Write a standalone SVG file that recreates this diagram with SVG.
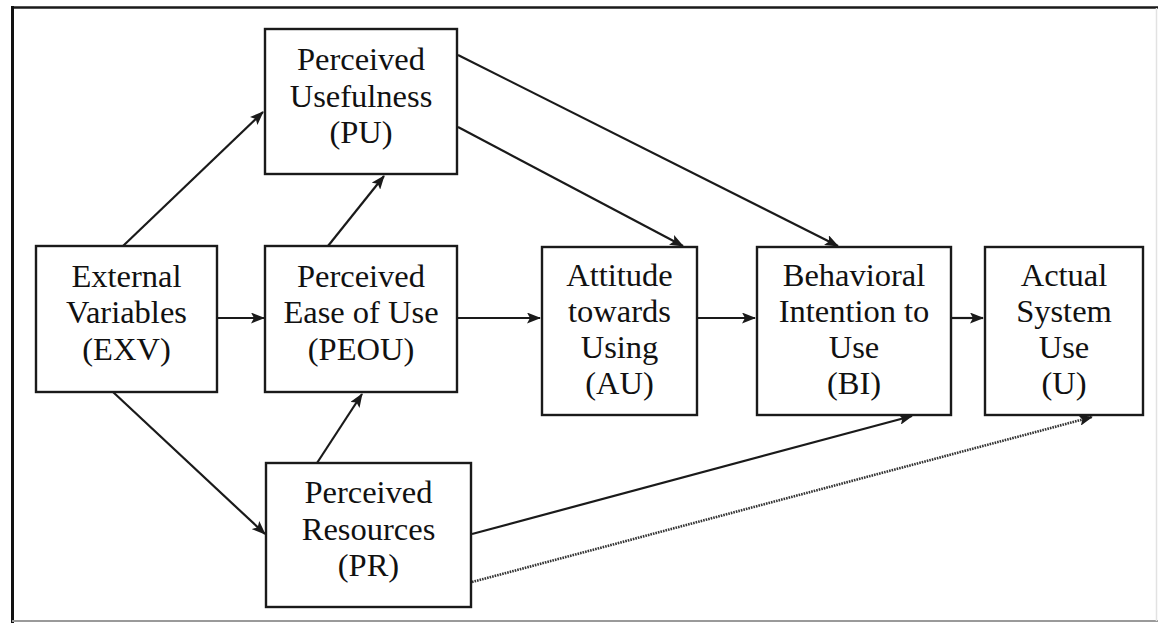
<svg xmlns="http://www.w3.org/2000/svg" width="1158" height="623" viewBox="0 0 1158 623">
  <style>
    .box { fill: #ffffff; stroke: #1a1a1a; stroke-width: 2.4; }
    .lbl { font-family: "Liberation Serif", "Times New Roman", serif; font-size: 32.5px; fill: #111111; text-anchor: middle; }
    .edge { stroke: #1a1a1a; stroke-width: 2.2; fill: none; marker-end: url(#arrow); }
    .dotted { stroke: #333333; stroke-width: 2.6; stroke-dasharray: 1.6 1; fill: none; marker-end: url(#arrow); }
  </style>
  <defs>
    <marker id="arrow" viewBox="0 0 14 11" refX="13" refY="5.5" markerWidth="14" markerHeight="11" markerUnits="userSpaceOnUse" orient="auto">
      <path d="M0,0 L14,5.5 L0,11 L3,5.5 Z" fill="#1a1a1a"/>
    </marker>
  </defs>

  <!-- page background and frame -->
  <rect x="0" y="0" width="1158" height="623" fill="#ffffff"/>
  <g id="frame">
    <line x1="12" y1="7.5" x2="1158" y2="7.5" stroke="#1a1a1a" stroke-width="2.6"/>
    <line x1="12.5" y1="6" x2="12.5" y2="623" stroke="#111111" stroke-width="3"/>
    <line x1="12" y1="621" x2="1158" y2="621" stroke="#9a9a9a" stroke-width="2"/>
    <line x1="1156.5" y1="8" x2="1156.5" y2="621" stroke="#e2e2e2" stroke-width="1.5"/>
  </g>

  <!-- connectors -->
  <g id="connectors">
    <line class="edge" x1="123" y1="246" x2="263" y2="112"/>
    <line class="edge" x1="328" y1="246" x2="384" y2="176"/>
    <line class="edge" x1="218" y1="318" x2="264" y2="318"/>
    <line class="edge" x1="113" y1="392" x2="265" y2="534"/>
    <line class="edge" x1="317" y1="463" x2="362" y2="394"/>
    <line class="edge" x1="458" y1="318" x2="540" y2="318"/>
    <line class="edge" x1="698" y1="318" x2="755" y2="318"/>
    <line class="edge" x1="952" y1="318" x2="983" y2="318"/>
    <line class="edge" x1="458" y1="127" x2="683" y2="246"/>
    <line class="edge" x1="458" y1="55" x2="838" y2="246"/>
    <line class="edge" x1="472" y1="534" x2="912" y2="416"/>
    <line class="dotted" x1="472" y1="582" x2="1092" y2="417"/>
  </g>

  <g id="node-exv">
    <rect class="box" x="36" y="246" width="181" height="146"/>
    <text class="lbl" x="126.5" y="287">External</text>
    <text class="lbl" x="126.5" y="323">Variables</text>
    <text class="lbl" x="126.5" y="360">(EXV)</text>
  </g>

  <g id="node-pu">
    <rect class="box" x="265" y="29" width="192" height="145"/>
    <text class="lbl" x="361" y="70">Perceived</text>
    <text class="lbl" x="361" y="107">Usefulness</text>
    <text class="lbl" x="361" y="143">(PU)</text>
  </g>

  <g id="node-peou">
    <rect class="box" x="265" y="246" width="192" height="146"/>
    <text class="lbl" x="361" y="287">Perceived</text>
    <text class="lbl" x="361" y="323">Ease of Use</text>
    <text class="lbl" x="361" y="360">(PEOU)</text>
  </g>

  <g id="node-pr">
    <rect class="box" x="266" y="463" width="205" height="144"/>
    <text class="lbl" x="368.5" y="503">Perceived</text>
    <text class="lbl" x="368.5" y="540">Resources</text>
    <text class="lbl" x="368.5" y="576">(PR)</text>
  </g>

  <g id="node-au">
    <rect class="box" x="542" y="247" width="155" height="168"/>
    <text class="lbl" x="619.5" y="286">Attitude</text>
    <text class="lbl" x="619.5" y="322">towards</text>
    <text class="lbl" x="619.5" y="358">Using</text>
    <text class="lbl" x="619.5" y="394">(AU)</text>
  </g>

  <g id="node-bi">
    <rect class="box" x="757" y="247" width="194" height="168"/>
    <text class="lbl" x="854" y="286">Behavioral</text>
    <text class="lbl" x="854" y="322">Intention to</text>
    <text class="lbl" x="854" y="358">Use</text>
    <text class="lbl" x="854" y="394">(BI)</text>
  </g>

  <g id="node-u">
    <rect class="box" x="985" y="247" width="158" height="168"/>
    <text class="lbl" x="1064" y="286">Actual</text>
    <text class="lbl" x="1064" y="322">System</text>
    <text class="lbl" x="1064" y="358">Use</text>
    <text class="lbl" x="1064" y="394">(U)</text>
  </g>
</svg>
